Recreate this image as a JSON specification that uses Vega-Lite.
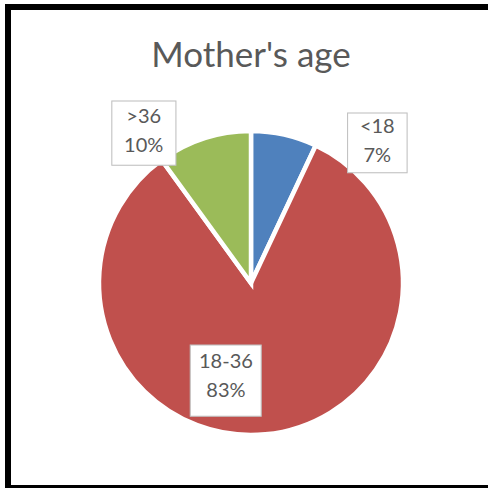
{
  "$schema": "https://vega.github.io/schema/vega-lite/v6.json",
  "width": 486,
  "height": 481,
  "autosize": "none",
  "padding": {"left": 8, "top": 7, "right": -6, "bottom": 0},
  "background": "white",
  "view": {"stroke": "black", "strokeWidth": 6},
  "title": {
    "text": "Mother's age",
    "font": "Lato",
    "fontSize": 35,
    "fontWeight": "normal",
    "color": "#595959",
    "anchor": "middle",
    "offset": -67
  },
  "data": {
    "values": [
      {"cat": "<18", "value": 0.07, "idx": 1},
      {"cat": "18-36", "value": 0.83, "idx": 2},
      {"cat": ">36", "value": 0.10, "idx": 3}
    ]
  },
  "layer": [
    {
      "mark": {"type": "point", "opacity": 0},
      "encoding": {
        "x": {"field": "idx", "type": "quantitative", "axis": null},
        "y": {"field": "value", "type": "quantitative", "axis": null}
      }
    },
    {
      "mark": {"type": "arc", "outerRadius": 152, "stroke": "white", "strokeWidth": 4.5, "x": {"expr": "width/2"}, "y": {"expr": "height/2+35.5"}},
      "encoding": {
        "theta": {"field": "value", "type": "quantitative", "stack": true},
        "order": {"field": "idx", "type": "quantitative"},
        "color": {"field": "cat", "type": "nominal", "scale": {"domain": ["<18", "18-36", ">36"], "range": ["#4F81BD", "#C0504D", "#9BBB59"]}, "legend": null}
      }
    },
    {
      "encoding": {
        "theta": {"field": "value", "type": "quantitative", "stack": true},
        "order": {"field": "idx", "type": "quantitative"},
        "opacity": {"condition": {"test": "datum.cat === '<18'", "value": 1}, "value": 0}
      },
      "layer": [
        {"mark": {"type": "text", "radius": 191, "thetaOffset": 0.5026, "x": {"expr": "width/2"}, "y": {"expr": "height/2+35.5"}, "font": "DejaVu Sans", "fontSize": 78, "baseline": "middle", "align": "center", "fill": "white", "stroke": "#BFBFBF", "strokeWidth": 1}, "encoding": {"text": {"value": "■"}}},
        {"mark": {"type": "text", "radius": 191, "thetaOffset": 0.5026, "x": {"expr": "width/2"}, "y": {"expr": "height/2+35.5"}, "dy": -13, "font": "Lato", "fontSize": 20, "baseline": "middle", "align": "center", "fill": "#595959"}, "encoding": {"text": {"field": "cat"}}},
        {"mark": {"type": "text", "radius": 191, "thetaOffset": 0.5026, "x": {"expr": "width/2"}, "y": {"expr": "height/2+35.5"}, "dy": 16, "font": "Lato", "fontSize": 20, "baseline": "middle", "align": "center", "fill": "#595959"}, "encoding": {"text": {"field": "value", "format": ".0%"}}}
      ]
    },
    {
      "encoding": {
        "theta": {"field": "value", "type": "quantitative", "stack": true},
        "order": {"field": "idx", "type": "quantitative"},
        "opacity": {"condition": {"test": "datum.cat === '18-36'", "value": 1}, "value": 0}
      },
      "layer": [
        {"mark": {"type": "text", "radius": 97, "thetaOffset": 0.3555, "x": {"expr": "width/2"}, "y": {"expr": "height/2+35.5"}, "font": "DejaVu Sans", "fontSize": 93, "baseline": "middle", "align": "center", "fill": "white", "stroke": "#BFBFBF", "strokeWidth": 1}, "encoding": {"text": {"value": "■"}}},
        {"mark": {"type": "text", "radius": 97, "thetaOffset": 0.3555, "x": {"expr": "width/2"}, "y": {"expr": "height/2+35.5"}, "dy": -14.5, "font": "Lato", "fontSize": 20, "baseline": "middle", "align": "center", "fill": "#595959"}, "encoding": {"text": {"field": "cat"}}},
        {"mark": {"type": "text", "radius": 97, "thetaOffset": 0.3555, "x": {"expr": "width/2"}, "y": {"expr": "height/2+35.5"}, "dy": 14.5, "font": "Lato", "fontSize": 20, "baseline": "middle", "align": "center", "fill": "#595959"}, "encoding": {"text": {"field": "value", "format": ".0%"}}}
      ]
    },
    {
      "encoding": {
        "theta": {"field": "value", "type": "quantitative", "stack": true},
        "order": {"field": "idx", "type": "quantitative"},
        "opacity": {"condition": {"test": "datum.cat === '>36'", "value": 1}, "value": 0}
      },
      "layer": [
        {"mark": {"type": "text", "radius": 187, "thetaOffset": -0.2968, "x": {"expr": "width/2"}, "y": {"expr": "height/2+35.5"}, "font": "DejaVu Sans", "fontSize": 84, "baseline": "middle", "align": "center", "fill": "white", "stroke": "#BFBFBF", "strokeWidth": 1}, "encoding": {"text": {"value": "■"}}},
        {"mark": {"type": "text", "radius": 187, "thetaOffset": -0.2968, "x": {"expr": "width/2"}, "y": {"expr": "height/2+35.5"}, "dy": -13, "font": "Lato", "fontSize": 20, "baseline": "middle", "align": "center", "fill": "#595959"}, "encoding": {"text": {"field": "cat"}}},
        {"mark": {"type": "text", "radius": 187, "thetaOffset": -0.2968, "x": {"expr": "width/2"}, "y": {"expr": "height/2+35.5"}, "dy": 16, "font": "Lato", "fontSize": 20, "baseline": "middle", "align": "center", "fill": "#595959"}, "encoding": {"text": {"field": "value", "format": ".0%"}}}
      ]
    }
  ],
  "config": {"view": {"stroke": "black", "strokeWidth": 6}}
}
